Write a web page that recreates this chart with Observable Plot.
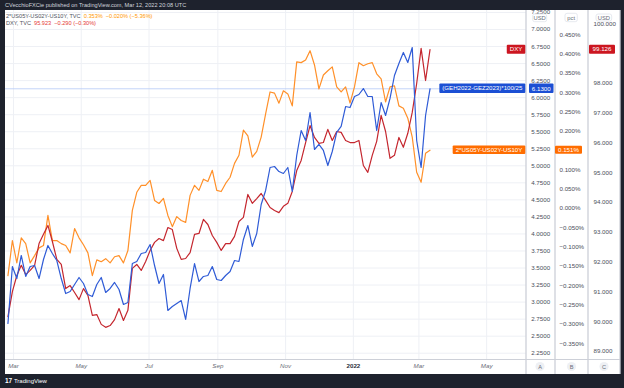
<!DOCTYPE html>
<html><head><meta charset="utf-8">
<script src="https://cdn.jsdelivr.net/npm/d3@7"></script>
<script src="https://cdn.jsdelivr.net/npm/@observablehq/plot@0.6"></script>
<style>
body{margin:0;width:624px;height:388px;overflow:hidden;background:#1e222d;position:relative;font-family:"Liberation Sans",Arial,sans-serif;}
.abs{position:absolute;white-space:nowrap}
</style></head><body>
<div class="abs" style="left:5px;top:0;height:10px;line-height:10px;font-size:5.6px;color:#d1d4dc">CVecchioFXCie published on TradingView.com, Mar 12, 2022 20:08 UTC</div>
<div class="abs" id="chart" style="left:5px;top:10px;width:615px;height:364px"></div>
<div class="abs" style="left:6px;top:13px;font-size:5.6px;line-height:7.4px;color:#50535e">
<div>2*US05Y-US02Y-US10Y, TVC&nbsp;&nbsp;<span style="color:#ff9800">0.353%&nbsp;&nbsp;−0.020% (−5.36%)</span></div>
<div>DXY, TVC&nbsp;&nbsp;<span style="color:#e53935">95.923&nbsp;&nbsp;−0.290 (−0.30%)</span></div>
</div>
<div class="abs" style="left:5px;top:376px;font-size:6px;line-height:10px;color:#fff"><b style="font-size:6.5px">17</b>&nbsp;TradingView</div>
<script>
// ---- data ----
const startDate = "2021-02-24";   // first sample, one sample every 4 days
const stepDays = 4;
// (GEH2022-GEZ2023)*100/25 — axis A (USD)
const blueVals = [2.686,3.522,3.346,3.684,3.376,3.522,3.537,3.346,3.625,3.831,
3.713,3.610,3.346,3.126,3.156,3.258,3.361,3.273,3.112,3.082,
3.258,3.361,3.141,3.200,3.288,3.185,2.965,2.994,3.566,3.596,
3.713,3.728,3.845,3.537,3.273,3.405,2.877,2.935,2.979,3.023,
2.745,3.200,3.566,3.302,3.376,3.390,3.522,3.332,3.317,3.390,
3.449,3.610,3.596,3.919,4.124,3.816,4.007,4.432,4.638,4.975,
4.990,4.916,4.887,4.975,4.623,5.151,5.518,5.371,5.782,5.239,
5.313,5.225,5.004,5.210,5.489,5.577,5.870,5.855,6.017,6.046,
6.134,6.017,6.017,5.518,5.929,5.738,5.988,6.325,6.501,6.663,
6.516,6.736,5.371,4.975,5.738,6.130];
// 2*US05Y-US02Y-US10Y — axis B (pct)
const orangeVals = [-0.174,-0.083,-0.141,-0.076,-0.091,-0.141,-0.122,-0.102,-0.096,-0.018,
-0.083,-0.083,-0.091,-0.096,-0.115,-0.052,-0.076,-0.094,-0.115,-0.174,
-0.133,-0.138,-0.130,-0.141,-0.125,-0.122,-0.141,-0.109,-0.005,0.042,
0.060,0.060,0.073,0.021,0.013,0.026,-0.018,-0.047,-0.021,-0.031,
-0.036,0.034,0.060,0.047,0.076,0.070,0.099,0.047,0.044,0.065,
0.081,0.117,0.138,0.203,0.188,0.133,0.148,0.185,0.245,0.302,
0.299,0.273,0.305,0.297,0.266,0.380,0.378,0.385,0.409,0.372,
0.310,0.346,0.357,0.367,0.315,0.302,0.315,0.273,0.315,0.378,
0.370,0.375,0.378,0.349,0.336,0.276,0.315,0.318,0.266,0.260,
0.234,0.185,0.094,0.068,0.143,0.151];
// DXY — axis C (USD)
const redVals = [90.17,91.01,91.55,91.89,91.58,91.72,91.89,92.62,92.93,93.23,
92.69,92.09,91.92,91.11,91.21,90.98,90.74,91.11,90.88,90.21,
90.24,89.91,89.81,89.87,90.07,90.44,90.04,90.38,91.79,91.92,
91.72,92.02,92.39,92.66,92.79,92.72,93.16,93.09,92.46,92.09,
92.12,92.32,92.93,92.96,93.43,93.26,92.89,92.66,92.39,92.62,
92.62,92.86,93.36,93.50,94.27,93.97,94.13,94.30,94.07,93.83,
93.73,93.66,93.87,93.97,94.37,95.07,95.41,96.01,96.58,96.18,
95.98,96.01,96.45,96.08,96.38,96.35,96.08,96.01,96.01,96.08,
95.24,95.01,95.58,96.05,96.92,96.38,95.48,95.58,96.18,95.85,
96.32,97.02,97.99,99.17,98.09,99.126];

const aTicks = [2.25,2.5,2.75,3,3.25,3.5,3.75,4,4.25,4.5,4.75,5,5.25,5.5,5.75,6,6.25,6.5,6.75,7,7.25];
const bTicks = [-0.35,-0.3,-0.25,-0.2,-0.15,-0.1,-0.05,0,0.05,0.1,0.15,0.2,0.25,0.3,0.35,0.4,0.45];
const cTicks = [89,90,91,92,93,94,95,96,97,98,99,100];
const xTickDates = ["2021-03-01","2021-05-01","2021-07-01","2021-09-01","2021-11-01","2022-01-01","2022-03-01","2022-05-01"];
const xTickLabels = ["Mar","May","Jul","Sep","Nov","2022","Mar","May"];
const seriesNames = ["(GEH2022-GEZ2023)*100/25","2*US05Y-US02Y-US10Y","DXY"];
const unitLabels = ["USD","pct","USD"];
const paneLetters = ["A","B","C"];

// ---- styling ----
const FONT = '"Liberation Sans", Arial, sans-serif';
const BLUE = "#2f5bd6", ORANGE = "#ff9029", RED = "#c4262e";
const BLUE_TAG = "#1b4fd4", ORANGE_TAG = "#ff6d00", RED_TAG = "#cc1620";
const AXIS = "#4a4e5a", GRID = "#eef0f5";
const W = 615, H = 364, MR = 94, MB = 14.5;

// map the B (pct) and C (DXY) price scales onto the shared A scale
const toA_B = p => 4.3734 + 5.6625 * p;
const toA_C = d => 2.2751 + 0.43742 * (d - 89);
const fmtB = p => d3.format(".3f")(p) + "%";

const t0 = new Date(startDate + "T00:00Z");
const rows = blueVals.map((b, i) => ({
  date: d3.utcDay.offset(t0, stepDays * i),
  blue: b, orange: toA_B(orangeVals[i]), red: toA_C(redVals[i])
}));
const xt = xTickDates.map(s => new Date(s + "T00:00Z"));
const monthIdx = xTickLabels.map((l, i) => i).filter(i => !/^\d{4}$/.test(xTickLabels[i]));
const yearIdx = xTickLabels.map((l, i) => i).filter(i => /^\d{4}$/.test(xTickLabels[i]));

const blueLast = blueVals[blueVals.length - 1];
const orangeLast = orangeVals[orangeVals.length - 1];
const redLast = redVals[redVals.length - 1];

// tick labels hidden beneath the last-value tags are not drawn (as in the reference)
const bShown = bTicks.filter(t => Math.abs(toA_B(t) - toA_B(orangeLast)) > 0.1);
const cShown = cTicks.filter(t => Math.abs(toA_C(t) - toA_C(redLast)) > 0.1);

const plot = Plot.plot({
  width: W, height: H,
  marginLeft: 0, marginRight: MR, marginTop: 0, marginBottom: MB,
  style: {background: "#fff", fontFamily: FONT, fontSize: "6px", color: AXIS, overflow: "visible"},
  x: {type: "utc", domain: [new Date("2021-02-21T19:12Z"), new Date("2022-06-05T21:00Z")], axis: null},
  y: {domain: [2.1504, 7.2788], label: null},
  marks: [
    Plot.gridY(aTicks, {stroke: GRID, strokeOpacity: 1}),
    Plot.gridX(xt, {stroke: GRID, strokeOpacity: 1}),
    Plot.ruleY([blueLast], {stroke: "#b3c8f5", strokeWidth: 0.8}),
    Plot.line(rows, {x: "date", y: "orange", stroke: ORANGE, strokeWidth: 1.2}),
    Plot.line(rows, {x: "date", y: "red", stroke: RED, strokeWidth: 1.2}),
    Plot.line(rows, {x: "date", y: "blue", stroke: BLUE, strokeWidth: 1.2}),
    Plot.axisY(aTicks, {anchor: "right", tickSize: 0, tickPadding: 4.7, tickFormat: d => d.toFixed(4), fill: AXIS, fontSize: 6.2, label: null}),
    Plot.text(bShown, {y: d => toA_B(d), text: fmtB, frameAnchor: "right", textAnchor: "start", dx: 33, fill: AXIS, fontSize: 6.2}),
    Plot.text(cShown, {y: d => toA_C(d), text: d => d.toFixed(3), frameAnchor: "right", textAnchor: "start", dx: 67, fill: AXIS, fontSize: 6.2}),
    Plot.text(monthIdx, {x: i => xt[i], text: i => xTickLabels[i], frameAnchor: "bottom", dy: 7.5, fill: "#6a6d78", fontSize: 6.2, fontStyle: "italic"}),
    Plot.text(yearIdx, {x: i => xt[i], text: i => xTickLabels[i], frameAnchor: "bottom", dy: 7.5, fill: "#2a2e39", fontSize: 6.2, fontWeight: "bold"})
  ]
});
document.getElementById("chart").append(plot);

// ---- TradingView-style decorations placed with Plot's y scale ----
const svg = d3.select(plot);
const ySc = plot.scale("y");
const deco = svg.append("g").attr("font-family", FONT);
const DIV = "#cdd0d8";
[521, 550, 583, 615].forEach(x => deco.append("line").attr("x1", x).attr("x2", x).attr("y1", 0).attr("y2", H).attr("stroke", DIV).attr("stroke-width", 1.3));
deco.append("line").attr("x1", 0).attr("x2", W).attr("y1", H - MB).attr("y2", H - MB).attr("stroke", DIV).attr("stroke-width", 1.2);

function unitTag(x, y, w, h, label) {
  deco.append("rect").attr("x", x).attr("y", y).attr("width", w).attr("height", h).attr("rx", 2)
    .attr("fill", "#fff").attr("stroke", "#e0e3eb").attr("stroke-width", 0.8);
  deco.append("text").attr("x", x + w / 2).attr("y", y + h / 2).attr("dy", "0.36em").attr("text-anchor", "middle")
    .attr("font-size", 5.8).attr("fill", "#6a6d78").text(label);
}
unitTag(527.7, 4, 14, 7.7, unitLabels[0]);
unitTag(560, 3.3, 12.3, 8.4, unitLabels[1]);
unitTag(591, 4, 15.7, 7, unitLabels[2]);

function valTag(x1, x2, yv, h, label, fill) {
  const y = ySc.apply(yv);
  deco.append("rect").attr("x", x1).attr("y", y - h / 2).attr("width", x2 - x1).attr("height", h).attr("rx", 1).attr("fill", fill);
  deco.append("text").attr("x", (x1 + x2) / 2).attr("y", y).attr("dy", "0.36em").attr("text-anchor", "middle")
    .attr("font-size", 6.2).attr("fill", "#fff").text(label);
}
valTag(524, 548.5, blueLast, 9.5, blueLast.toFixed(4), BLUE_TAG);
valTag(550, 577, toA_B(orangeLast), 8, fmtB(orangeLast), ORANGE_TAG);
valTag(584, 610, toA_C(redLast), 9, redLast.toFixed(3), RED_TAG);

function nameTag(yv, label, fill, h) {
  const y = ySc.apply(yv);
  const r = deco.append("rect");
  const t = deco.append("text").attr("y", y).attr("dy", "0.36em").attr("text-anchor", "end")
    .attr("font-size", 6.1).attr("fill", "#fff").text(label);
  const w = t.node().getComputedTextLength();
  const pad = 3, x2 = 520.3;
  t.attr("x", x2 - pad);
  r.attr("x", x2 - w - 2 * pad).attr("y", y - h / 2).attr("width", w + 2 * pad).attr("height", h).attr("rx", 1).attr("fill", fill);
}
nameTag(toA_C(redLast), seriesNames[2], RED_TAG, 9);
nameTag(blueLast, seriesNames[0], BLUE_TAG, 9.5);
nameTag(toA_B(orangeLast), seriesNames[1], ORANGE_TAG, 8.5);

[535, 566.5, 599].forEach((cx, i) => {
  deco.append("circle").attr("cx", cx).attr("cy", 356.5).attr("r", 4.6).attr("fill", "#eef0f4");
  deco.append("text").attr("x", cx).attr("y", 356.5).attr("dy", "0.36em").attr("text-anchor", "middle")
    .attr("font-size", 5.6).attr("fill", "#6a6d78").text(paneLetters[i]);
});
</script>
</body></html>
